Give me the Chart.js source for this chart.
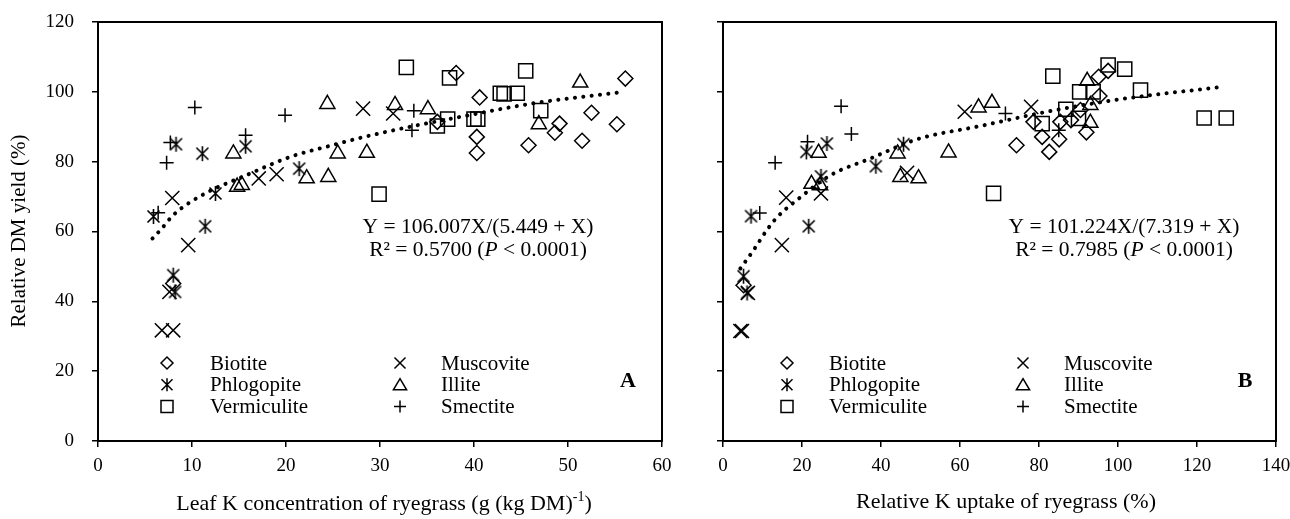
<!DOCTYPE html>
<html><head><meta charset="utf-8">
<script src="https://cdn.jsdelivr.net/npm/chart.js@4.4.1/dist/chart.umd.min.js"></script>
<style>
html,body{margin:0;padding:0;background:#fff;width:1290px;height:519px;overflow:hidden}
#wa{position:absolute;left:0;top:0;width:700px;height:519px}
#wb{position:absolute;left:700px;top:0;width:590px;height:519px}
</style></head><body>
<div id="wa"><canvas id="ca"></canvas></div>
<div id="wb"><canvas id="cb"></canvas></div>
<script>
// ---------- data ----------
const seriesNames = ['Biotite','Muscovite','Phlogopite','Illite','Vermiculite','Smectite'];
const yTicks = [0,20,40,60,80,100,120];
const xTicksA = [0,10,20,30,40,50,60];
const xTicksB = [0,20,40,60,80,100,120,140];

// Panel A: leaf K concentration (x) vs relative DM yield (y)
const biotiteA = [[38.1,105.4],[56.1,103.8],[40.6,98.4],[36.1,91.4],[40.3,87.1],[40.3,82.5],[49.1,90.9],[48.6,88.3],[45.8,84.7],[52.5,94.0],[51.5,86.0],[55.2,90.7],[8.0,45.1]];
const muscoviteA = [[28.2,95.2],[31.4,93.8],[7.9,69.6],[17.1,75.2],[19.0,76.4],[9.6,56.1],[7.6,42.7],[6.8,31.7],[8.0,31.7]];
const phlogopiteA = [[8.3,85.0],[11.1,82.3],[15.7,84.4],[12.5,70.9],[21.4,78.0],[5.9,64.3],[11.4,61.5],[8.0,47.5],[8.2,42.7]];
const illiteA = [[24.4,96.5],[14.4,82.3],[25.5,82.3],[28.6,82.5],[14.8,72.8],[15.3,73.3],[22.2,75.2],[24.5,75.6],[31.6,96.2],[35.1,95.0],[51.3,102.6],[46.9,90.7]];
const vermiculiteA = [[32.8,107.0],[37.4,104.0],[45.5,106.0],[42.8,99.6],[43.2,99.4],[44.6,99.6],[37.2,92.2],[36.1,90.2],[40.0,92.2],[40.4,92.2],[47.1,94.6],[29.9,70.7]];
const smectiteA = [[10.3,95.5],[19.9,93.3],[7.3,79.7],[7.7,85.5],[15.7,87.6],[6.4,65.4],[33.6,94.6],[33.4,89.0]];
const fitA = [[5.8,58.0],[6.8,60.9],[8.0,64.7],[11.4,70.9],[15.5,75.8],[20.5,81.4],[24.9,84.7],[28.5,87.2],[33.2,90.0],[38.5,92.8],[46.3,96.7],[55.9,100.0]];

// Panel B: relative K uptake (x) vs relative DM yield (y)
const biotiteB = [[97.5,106.0],[95.1,104.3],[95.3,98.8],[90.5,94.8],[88.1,91.9],[85.4,91.4],[92.0,88.4],[78.6,91.4],[80.8,87.1],[85.1,86.4],[74.3,84.7],[82.6,82.8],[5.2,44.6]];
const muscoviteB = [[78.0,95.7],[61.2,94.3],[24.8,70.9],[16.0,69.7],[46.6,76.8],[14.9,56.1],[6.3,42.4],[4.4,31.5],[4.8,31.5]];
const phlogopiteB = [[21.1,82.8],[26.3,85.2],[24.8,75.8],[38.7,78.7],[45.7,85.0],[7.1,64.4],[21.7,61.5],[5.2,47.2],[6.1,42.4]];
const illiteB = [[92.2,103.1],[93.0,96.2],[93.0,91.1],[24.2,82.5],[22.4,73.6],[24.6,73.2],[44.2,82.3],[44.9,75.6],[49.5,75.2],[57.1,82.6],[64.7,95.5],[68.1,96.8]];
const vermiculiteB = [[83.5,104.5],[97.5,107.7],[101.7,106.5],[90.3,100.0],[93.7,100.0],[105.7,100.5],[86.8,95.0],[90.0,92.4],[80.8,90.9],[121.8,92.5],[127.4,92.5],[68.5,70.9]];
const smectiteB = [[29.9,95.9],[32.5,87.9],[13.2,79.7],[21.4,85.7],[9.3,65.3],[71.5,93.8],[85.0,89.0]];
const fitB = [[4.4,49.4],[7.7,54.6],[11.1,60.4],[13.8,64.2],[18.7,69.0],[27.2,76.1],[37.3,80.9],[49.1,86.4],[65.1,90.2],[82.0,94.3],[98.9,97.6],[125.2,101.3]];

// ---------- styling ----------
const FONT = '"Liberation Serif", "Times New Roman", serif';
const starImg = (function(){
  const c = document.createElement('canvas'); c.width = 17; c.height = 17;
  const g = c.getContext('2d'); g.strokeStyle = '#000'; g.lineWidth = 1.6;
  g.beginPath();
  g.moveTo(2.5,2.5); g.lineTo(14.5,14.5);
  g.moveTo(2.5,14.5); g.lineTo(14.5,2.5);
  g.moveTo(8.5,1); g.lineTo(8.5,16);
  g.stroke();
  return c;
})();
const styles = {
  Biotite:{ps:'rectRot', r:7.5},
  Muscovite:{ps:'crossRot', r:10},
  Phlogopite:{ps:starImg, r:8},
  Illite:{ps:'triangle', r:8.7},
  Vermiculite:{ps:'rect', r:10},
  Smectite:{ps:'cross', r:7}
};
const legendMarks = {Biotite:'rectRot',Muscovite:'crossRot',Phlogopite:'star',Illite:'triangle',Vermiculite:'rect',Smectite:'cross'};

function toXY(a){ return a.map(p => ({x:p[0], y:p[1]})); }

function drawMarker(ctx, type, x, y, s){
  ctx.save(); ctx.strokeStyle = '#000'; ctx.lineWidth = 1.5; ctx.beginPath();
  switch(type){
    case 'rectRot': ctx.moveTo(x-s,y); ctx.lineTo(x,y-s); ctx.lineTo(x+s,y); ctx.lineTo(x,y+s); ctx.closePath(); break;
    case 'rect': ctx.rect(x-s,y-s,2*s,2*s); break;
    case 'triangle': ctx.moveTo(x,y-s); ctx.lineTo(x+s*1.1,y+s*0.85); ctx.lineTo(x-s*1.1,y+s*0.85); ctx.closePath(); break;
    case 'cross': ctx.moveTo(x-s,y); ctx.lineTo(x+s,y); ctx.moveTo(x,y-s); ctx.lineTo(x,y+s); break;
    case 'crossRot': ctx.moveTo(x-s,y-s); ctx.lineTo(x+s,y+s); ctx.moveTo(x-s,y+s); ctx.lineTo(x+s,y-s); break;
    case 'star': ctx.moveTo(x-s,y-s); ctx.lineTo(x+s,y+s); ctx.moveTo(x-s,y+s); ctx.lineTo(x+s,y-s); ctx.moveTo(x,y-s-1); ctx.lineTo(x,y+s+1); break;
  }
  ctx.stroke(); ctx.restore();
}

function drawParts(ctx, cx, y, parts, size){
  let total = 0;
  parts.forEach(p => { ctx.font = (p.it ? 'italic ' : '') + size + 'px ' + FONT; p.w = ctx.measureText(p.t).width; total += p.w; });
  let x = cx - total/2;
  ctx.textAlign = 'left'; ctx.textBaseline = 'middle'; ctx.fillStyle = '#000';
  parts.forEach(p => { ctx.font = (p.it ? 'italic ' : '') + size + 'px ' + FONT; ctx.fillText(p.t, x, y); x += p.w; });
}

function makeChart(id, cfg){
  const datasets = [];
  const series = cfg.series;
  seriesNames.forEach((name, i) => {
    const st = styles[name];
    datasets.push({
      type:'scatter', label:name, data:toXY(series[i]),
      pointStyle:st.ps, pointRadius:st.r, pointHoverRadius:st.r,
      pointBorderColor:'#000', pointBackgroundColor:'rgba(0,0,0,0)', pointBorderWidth:1.5,
      showLine:false
    });
  });
  datasets.push({
    type:'line', label:'fit', data:toXY(cfg.fit),
    borderColor:'#000', borderWidth:4, borderDash:[0.1, 8.3], borderCapStyle:'round',
    pointRadius:0, fill:false, cubicInterpolationMode:'monotone'
  });

  const overlay = {
    id:'overlay',
    afterDraw(chart){
      const ctx = chart.ctx, a = chart.chartArea;
      ctx.save();
      ctx.strokeStyle = '#000'; ctx.lineWidth = 2;
      ctx.strokeRect(a.left, a.top, a.right - a.left, a.bottom - a.top);
      // legend
      ctx.fillStyle = '#000'; ctx.textAlign = 'left'; ctx.textBaseline = 'middle';
      const rows = [cfg.legY, cfg.legY + 21.7, cfg.legY + 43.4];
      const order = [['Biotite','Muscovite'],['Phlogopite','Illite'],['Vermiculite','Smectite']];
      order.forEach((pair, r) => {
        pair.forEach((name, c) => {
          const mx = cfg.legCols[c][0], tx = cfg.legCols[c][1];
          const t = legendMarks[name];
          const s = (t === 'crossRot' || t === 'star') ? 5.5 : 6;
          drawMarker(ctx, t, mx, rows[r], s);
          ctx.font = '21px ' + FONT; ctx.textAlign = 'left'; ctx.textBaseline = 'middle'; ctx.fillStyle = '#000';
          ctx.fillText(name, tx, rows[r] + 1);
        });
      });
      // equation
      drawParts(ctx, cfg.eqX, 227, [{t:cfg.eq1}], 21.5);
      drawParts(ctx, cfg.eqX, 250, [{t:cfg.eq2a},{t:'P', it:true},{t:' < 0.0001)'}], 21.5);
      // panel letter
      ctx.font = 'bold 22px ' + FONT; ctx.textAlign = 'center'; ctx.textBaseline = 'middle';
      ctx.fillText(cfg.letter, cfg.letterX, 381);
      // x title
      const TS = 22;
      if (cfg.xTitleSup){
        const main = cfg.xTitle, sup = cfg.xTitleSup, tail = ')';
        ctx.font = TS + 'px ' + FONT; const w1 = ctx.measureText(main).width, w3 = ctx.measureText(tail).width;
        ctx.font = '14px ' + FONT; const w2 = ctx.measureText(sup).width;
        let x = cfg.xTitleX - (w1 + w2 + w3)/2;
        ctx.textAlign = 'left'; ctx.textBaseline = 'alphabetic';
        ctx.font = TS + 'px ' + FONT; ctx.fillText(main, x, 510); x += w1;
        ctx.font = '14px ' + FONT; ctx.fillText(sup, x, 501); x += w2;
        ctx.font = TS + 'px ' + FONT; ctx.fillText(tail, x, 510);
      } else {
        ctx.font = TS + 'px ' + FONT;
        ctx.textAlign = 'center'; ctx.textBaseline = 'alphabetic';
        ctx.fillText(cfg.xTitle, cfg.xTitleX, 508);
      }
      if (cfg.yTitle){
        ctx.save(); ctx.translate(19, 231); ctx.rotate(-Math.PI/2);
        ctx.font = '21px ' + FONT; ctx.textAlign = 'center'; ctx.textBaseline = 'middle';
        ctx.fillText(cfg.yTitle, 0, 0); ctx.restore();
      }
      ctx.restore();
    }
  };

  return new Chart(document.getElementById(id), {
    data:{datasets},
    options:{
      responsive:true, maintainAspectRatio:false, animation:false, devicePixelRatio:1,
      layout:{padding:{top:22, right:cfg.padRight, left:0, bottom:0}},
      plugins:{legend:{display:false}, tooltip:{enabled:false}},
      scales:{
        x:{type:'linear', position:'bottom', min:cfg.xTicks[0], max:cfg.xTicks[cfg.xTicks.length-1],
           ticks:{stepSize:cfg.xTicks[1]-cfg.xTicks[0], color:'#000', font:{family:FONT, size:19}, padding:8, maxRotation:0},
           grid:{drawOnChartArea:false, drawTicks:true, tickLength:6, color:'#000', lineWidth:1.5},
           border:{display:true, color:'#000', width:2},
           afterFit(s){ s.height = 78; s.paddingLeft = 0; s.paddingRight = 0; }},
        y:{type:'linear', position:'left', min:yTicks[0], max:yTicks[yTicks.length-1],
           ticks:{stepSize:yTicks[1]-yTicks[0], color:'#000', font:{family:FONT, size:19}, padding:18,
                  callback:(v) => cfg.yLabels ? String(v) : ''},
           grid:{drawOnChartArea:false, drawTicks:true, tickLength:6, color:'#000', lineWidth:1.5},
           border:{display:true, color:'#000', width:2},
           afterFit(s){ s.width = cfg.yWidth; s.paddingTop = 0; s.paddingBottom = 0; }}
      }
    },
    plugins:[overlay]
  });
}

makeChart('ca', {
  series:[biotiteA, muscoviteA, phlogopiteA, illiteA, vermiculiteA, smectiteA],
  fit:fitA, xTicks:xTicksA, yLabels:true, yWidth:98, padRight:38,
  legY:363, legCols:[[167,210],[400,441]],
  eqX:478, eq1:'Y = 106.007X/(5.449 + X)', eq2a:'R\u00B2 = 0.5700 (',
  letter:'A', letterX:628,
  xTitle:'Leaf K concentration of ryegrass (g (kg DM)', xTitleSup:'-1', xTitleX:384,
  yTitle:'Relative DM yield (%)'
});
makeChart('cb', {
  series:[biotiteB, muscoviteB, phlogopiteB, illiteB, vermiculiteB, smectiteB],
  fit:fitB, xTicks:xTicksB, yLabels:false, yWidth:23, padRight:14,
  legY:363, legCols:[[87,129],[323,364]],
  eqX:424, eq1:'Y = 101.224X/(7.319 + X)', eq2a:'R\u00B2 = 0.7985 (',
  letter:'B', letterX:545,
  xTitle:'Relative K uptake of ryegrass (%)', xTitleSup:null, xTitleX:306,
  yTitle:null
});
</script>
</body></html>
